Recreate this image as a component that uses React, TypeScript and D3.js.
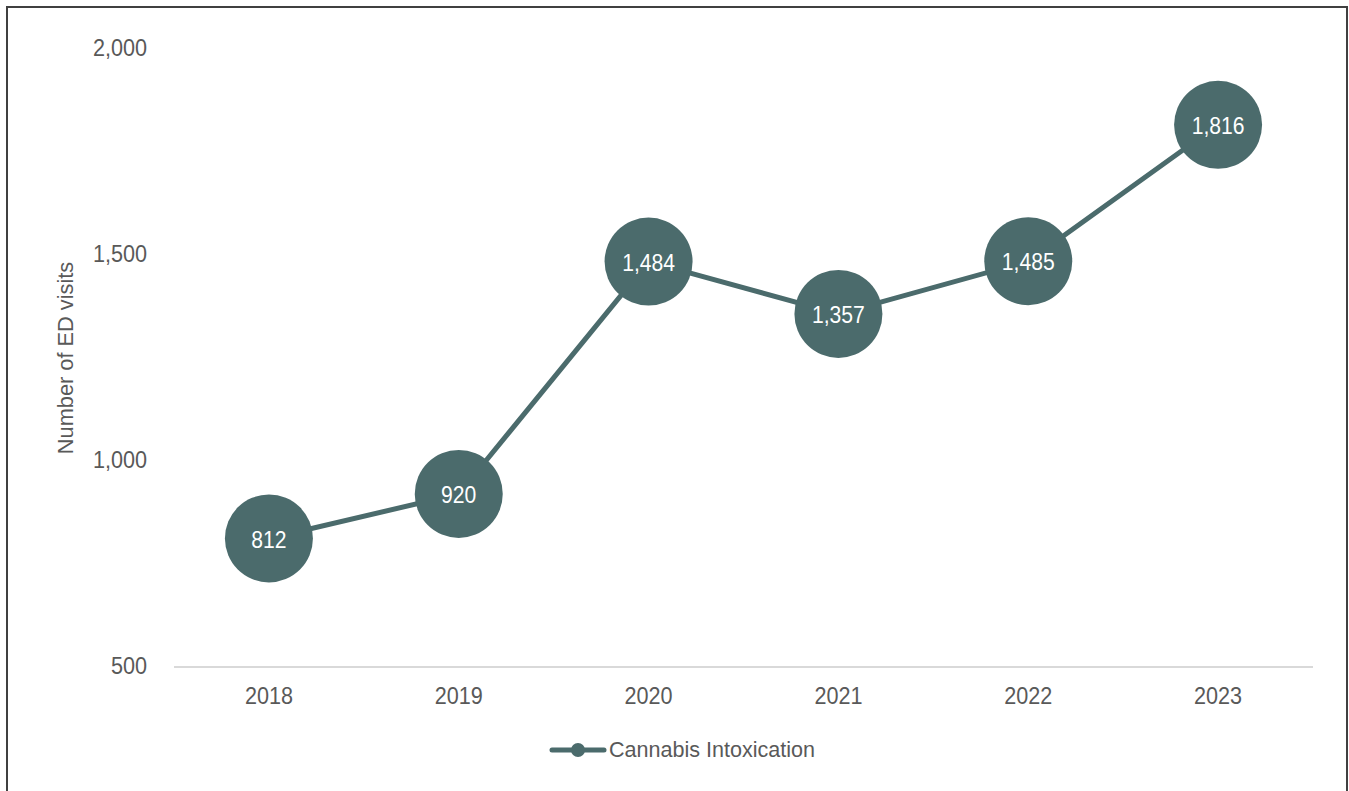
import React from "react";
import * as d3 from "d3";

const years = ["2018", "2019", "2020", "2021", "2022", "2023"];
const visits = [812, 920, 1484, 1357, 1485, 1816];
const yTicks = [500, 1000, 1500, 2000];
const seriesName = "Cannabis Intoxication";
const yTitle = "Number of ED visits";

const W = 1349;
const H = 791;
const COLOR = "#4b6b6c";
const TEXT = "#595959";
const FONT = "'Liberation Sans', Arial, sans-serif";

type TProps = {
  x: number;
  y: number;
  size: number;
  sx: number;
  anchor?: "start" | "middle" | "end";
  fill?: string;
  rotate?: number;
  children: React.ReactNode;
};

function T({ x, y, size, sx, anchor = "middle", fill = TEXT, rotate = 0, children }: TProps) {
  return (
    <text
      transform={`translate(${x},${y}) rotate(${rotate}) scale(${sx},1)`}
      textAnchor={anchor}
      dy="0.35em"
      fontSize={size}
      fill={fill}
    >
      {children}
    </text>
  );
}

export default function App() {
  const plotLeft = 174;
  const plotRight = 1313;
  const x = d3.scalePoint<string>().domain(years).range([plotLeft, plotRight]).padding(0.5);
  const y = d3.scaleLinear().domain([500, 2000]).range([667, 49]);
  const line = d3
    .line<number>()
    .x((_, i) => x(years[i]) as number)
    .y((d) => y(d));
  const fmt = d3.format(",");

  return (
    <div style={{ position: "fixed", left: 0, top: 0, width: W, height: H, background: "#fff" }}>
      <svg width={W} height={H} style={{ display: "block" }} fontFamily={FONT}>
        <rect x={7} y={7} width={1340} height={800} fill="#fff" stroke="#404040" strokeWidth={2} />
        <line x1={plotLeft} x2={plotRight} y1={y(500)} y2={y(500)} stroke="#d9d9d9" strokeWidth={2} />
        {yTicks.map((t) => (
          <T key={t} x={147} y={y(t) - 1} size={24} sx={0.9} anchor="end">
            {fmt(t)}
          </T>
        ))}
        {years.map((yr) => (
          <T key={yr} x={x(yr) as number} y={696} size={24} sx={0.9}>
            {yr}
          </T>
        ))}
        <T x={65} y={358} size={22} sx={0.99} rotate={-90}>
          {yTitle}
        </T>
        <path d={line(visits) || ""} fill="none" stroke={COLOR} strokeWidth={5} strokeLinejoin="round" />
        {visits.map((v, i) => (
          <g key={years[i]}>
            <circle cx={x(years[i])} cy={y(v)} r={44} fill={COLOR} />
            <T x={x(years[i]) as number} y={y(v) + 1} size={23} sx={0.92} fill="#ffffff">
              {fmt(v)}
            </T>
          </g>
        ))}
        <line x1={552} x2={604} y1={750} y2={750} stroke={COLOR} strokeWidth={5} strokeLinecap="round" />
        <circle cx={578} cy={750} r={7} fill={COLOR} />
        <T x={609} y={749} size={22} sx={0.98} anchor="start">
          {seriesName}
        </T>
      </svg>
    </div>
  );
}
